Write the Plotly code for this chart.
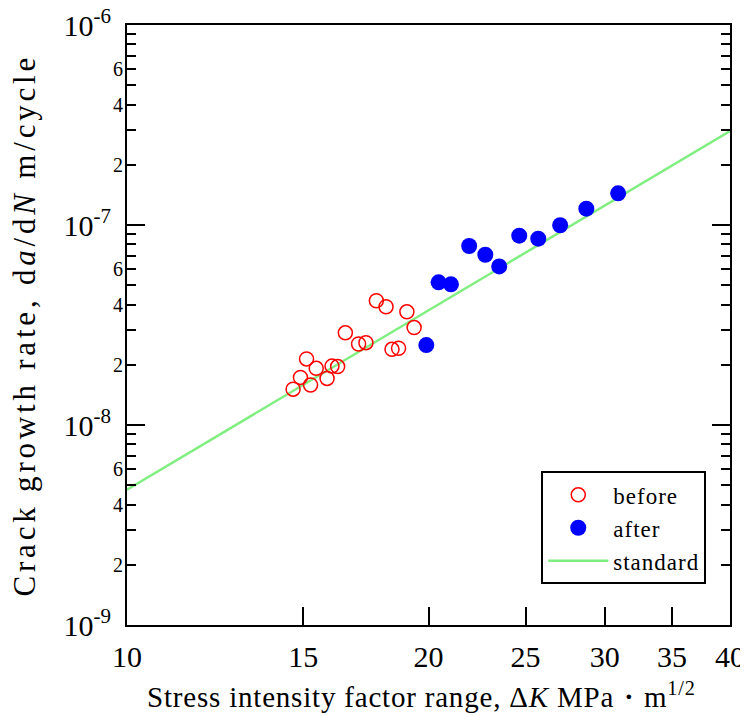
import numpy as np
import plotly.graph_objects as go

# ---- data ----
before_dk = [14.65, 14.90, 15.11, 15.25, 15.45, 15.84, 16.02, 16.23, 16.52, 17.03,
             17.32, 17.74, 18.14, 18.39, 18.67, 19.03, 19.35]
before_rate = [1.51e-8, 1.73e-8, 2.14e-8, 1.585e-8, 1.92e-8, 1.71e-8, 1.97e-8, 1.96e-8,
               2.89e-8, 2.54e-8, 2.58e-8, 4.18e-8, 3.90e-8, 2.39e-8, 2.42e-8, 3.68e-8, 3.07e-8]

after_dk = [19.90, 20.47, 21.06, 21.96, 22.79, 23.53, 24.64, 25.74, 27.07, 28.75, 30.93]
after_rate = [2.51e-8, 5.17e-8, 5.05e-8, 7.85e-8, 7.10e-8, 6.21e-8, 8.84e-8, 8.54e-8,
              9.97e-8, 1.207e-7, 1.44e-7]

standard_dk = [10, 40]
standard_rate = [4.75e-9, 2.95e-7]

x_tickvals = [10, 15, 20, 25, 30, 35, 40]
x_ticktext = ["10", "15", "20", "25", "30", "35", "40"]
y_decades = [-9, -8, -7, -6]
y_minor_mult = [2, 3, 4, 5, 6, 7, 8, 9]
y_minor_labels = [2, 4, 6]

FONT = "Liberation Serif, Times New Roman, serif"


def spaced(txt, px):
    return '<span style="letter-spacing:%spx">%s</span>' % (px, txt)


fig = go.Figure()
fig.add_trace(go.Scatter(x=standard_dk, y=standard_rate, mode="lines",
                         name=spaced("standard", 1),
                         line=dict(color="#80EE80", width=2.5), legendrank=3))
fig.add_trace(go.Scatter(x=before_dk, y=before_rate, mode="markers",
                         name=spaced("before", 1),
                         marker=dict(symbol="circle-open", size=14, color="red",
                                     line=dict(width=1.5, color="red")), legendrank=1))
fig.add_trace(go.Scatter(x=after_dk, y=after_rate, mode="markers",
                         name=spaced("after", 1),
                         marker=dict(symbol="circle", size=16, color="blue"), legendrank=2))

y_major_vals = [10.0 ** d for d in y_decades]
y_major_text = ["10<sup>%d</sup>" % d for d in y_decades]
y_minor_vals = [m * 10.0 ** d for d in y_decades[:-1] for m in y_minor_mult]

fig.update_xaxes(type="log", range=[np.log10(10), np.log10(40)],
                 tickvals=x_tickvals, ticktext=x_ticktext,
                 ticks="inside", ticklen=18, tickwidth=2, tickcolor="black",
                 showline=True, linewidth=2, linecolor="black", mirror=True,
                 showgrid=False, zeroline=False, automargin=False,
                 ticklabeloverflow="allow",
                 tickfont=dict(size=30, color="black", family=FONT),
                 ticklabelstandoff=4)
fig.update_yaxes(type="log", range=[-9, -6],
                 tickvals=y_major_vals, ticktext=y_major_text,
                 ticks="inside", ticklen=18, tickwidth=2, tickcolor="black",
                 minor=dict(tickvals=y_minor_vals, ticks="inside", ticklen=9,
                            tickwidth=2, tickcolor="black", showgrid=False),
                 showline=True, linewidth=2, linecolor="black", mirror="ticks",
                 showgrid=False, zeroline=False, automargin=False,
                 ticklabeloverflow="allow",
                 tickfont=dict(size=30, color="black", family=FONT),
                 ticklabelstandoff=8)

for d in y_decades[:-1]:
    for m in y_minor_labels:
        fig.add_annotation(x=0, xref="paper", y=np.log10(m * 10.0 ** d), yref="y",
                           text=str(m), showarrow=False, xanchor="right", yanchor="middle",
                           xshift=-2, font=dict(size=20, color="black", family=FONT))

# axis titles
fig.add_annotation(x=0.488, xref="paper", y=-0.117, yref="paper",
                   text=spaced("Stress intensity factor range, Δ<i>K</i> MPa・m<sup>1/2</sup>", 0.8),
                   showarrow=False, xanchor="center", yanchor="middle",
                   font=dict(size=29, color="black", family=FONT))
fig.add_annotation(x=-0.17, xref="paper", y=0.50, yref="paper",
                   text=spaced("Crack growth rate, d<i>a</i>/d<i>N</i> m/cycle", 3.8),
                   textangle=-90, showarrow=False, xanchor="center", yanchor="middle",
                   font=dict(size=31, color="black", family=FONT))

# page body has an 8px margin: figure is sized to fit the 748x717 window
fig.update_layout(
    width=740, height=709,
    margin=dict(l=119, r=18, t=17, b=92),
    paper_bgcolor="white", plot_bgcolor="white",
    font=dict(family=FONT, color="black"),
    showlegend=True,
    legend=dict(x=0.687, y=0.256, xanchor="left", yanchor="top",
                bordercolor="black", borderwidth=2, bgcolor="white",
                font=dict(size=23, color="black", family=FONT),
                itemwidth=60, tracegroupgap=0),
)

fig.write_html("out.html")
